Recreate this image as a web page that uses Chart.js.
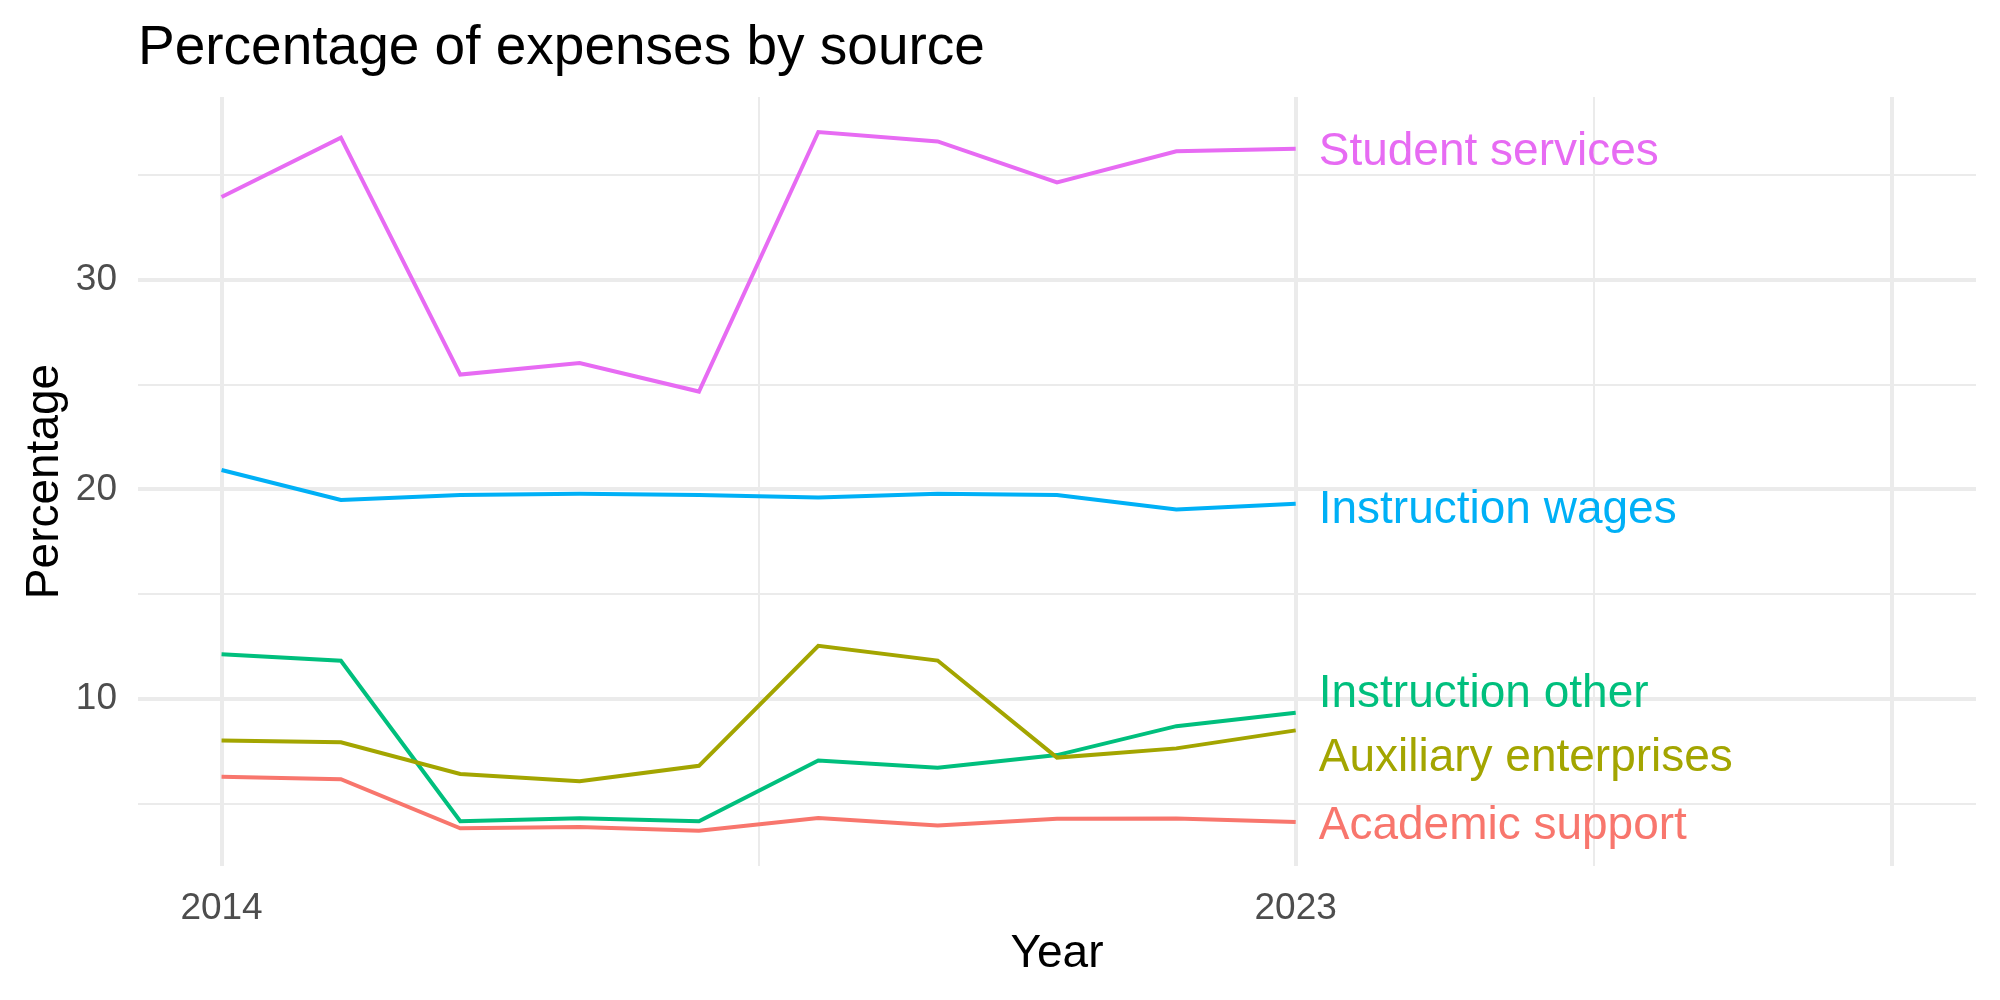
<!DOCTYPE html>
<html>
<head>
<meta charset="utf-8">
<title>Percentage of expenses by source</title>
<script src="https://cdn.jsdelivr.net/npm/chart.js@4/dist/chart.umd.min.js"></script>
<style>
  html, body { margin: 0; padding: 0; background: #fff; }
  canvas { display: block; }
</style>
</head>
<body>
<canvas id="chart" width="2000" height="1000"></canvas>
<script>
const years = [2014, 2015, 2016, 2017, 2018, 2019, 2020, 2021, 2022, 2023];

const categories = ['Academic support', 'Auxiliary enterprises', 'Instruction other', 'Instruction wages', 'Student services'];

const academicSupport = [6.30, 6.18, 3.84, 3.90, 3.72, 4.33, 3.97, 4.29, 4.31, 4.14];
const auxiliaryEnterprises = [8.03, 7.94, 6.43, 6.08, 6.82, 12.54, 11.84, 7.21, 7.65, 8.51];
const instructionOther = [12.14, 11.83, 4.18, 4.32, 4.17, 7.07, 6.73, 7.33, 8.71, 9.35];
const instructionWages = [20.93, 19.50, 19.74, 19.80, 19.74, 19.62, 19.80, 19.74, 19.05, 19.32];
const studentServices = [33.95, 36.78, 25.48, 26.03, 24.67, 37.05, 36.60, 34.65, 36.13, 36.25];

// where the end labels sit (value axis), nudged apart like ggrepel does
const labelValues = [4.08, 7.33, 10.37, 19.18, 36.22];

const xBreaks = [2014, 2018.5, 2023, 2025.5, 2028];
const xMajor = [2014, 2023, 2028];
const xLabelled = [2014, 2023];
const yBreaks = [5, 10, 15, 20, 25, 30, 35];
const yMajor = [10, 20, 30];

const colors = ['#F8766D', '#A3A500', '#00BF7D', '#00B0F6', '#E76BF3'];
const seriesValues = [academicSupport, auxiliaryEnterprises, instructionOther, instructionWages, studentServices];

const FONT = '"Liberation Sans", Arial, Helvetica, sans-serif';
const GRID = '#EBEBEB';

function toPoints(values) {
  return values.map((v, i) => ({ x: years[i], y: v }));
}

const datasets = categories.map((name, i) => ({
  label: name,
  data: toPoints(seriesValues[i]),
  borderColor: colors[i],
  backgroundColor: colors[i],
  borderWidth: 4,
  pointRadius: 0,
  tension: 0,
  fill: false
}));

// titles and the end-of-line labels
const annotate = {
  id: 'annotate',
  afterDatasetsDraw(chart) {
    const ctx = chart.ctx;
    const area = chart.chartArea;
    const xs = chart.scales.x;
    const ys = chart.scales.y;
    ctx.save();

    ctx.font = '46px ' + FONT;
    ctx.textAlign = 'left';
    ctx.textBaseline = 'alphabetic';
    const lastYear = years[years.length - 1];
    categories.forEach((name, i) => {
      ctx.fillStyle = colors[i];
      ctx.fillText(name, xs.getPixelForValue(lastYear) + 23, ys.getPixelForValue(labelValues[i]) + 16);
    });

    ctx.fillStyle = '#000';
    ctx.font = '55px ' + FONT;
    ctx.fillText('Percentage of expenses by source', area.left, 64);

    ctx.font = '46px ' + FONT;
    ctx.textAlign = 'center';
    ctx.fillText('Year', (area.left + area.right) / 2, 967);

    ctx.translate(58, (area.top + area.bottom) / 2);
    ctx.rotate(-Math.PI / 2);
    ctx.fillText('Percentage', 0, 0);
    ctx.restore();
  }
};

new Chart(document.getElementById('chart'), {
  type: 'line',
  data: { datasets: datasets },
  plugins: [annotate],
  options: {
    responsive: false,
    animation: false,
    devicePixelRatio: 1,
    layout: { padding: { top: 97, right: 24, left: 0, bottom: 0 } },
    plugins: {
      legend: { display: false },
      tooltip: { enabled: false },
      title: { display: false }
    },
    scales: {
      x: {
        type: 'linear',
        min: 2013.3,
        max: 2028.7,
        afterBuildTicks: (scale) => { scale.ticks = xBreaks.map(v => ({ value: v })); },
        afterFit: (scale) => { scale.height = 134; },
        border: { display: false },
        grid: {
          color: GRID,
          drawTicks: false,
          lineWidth: (c) => xMajor.includes(c.tick.value) ? 4 : 2
        },
        ticks: {
          autoSkip: false,
          maxRotation: 0,
          padding: 21,
          color: '#4D4D4D',
          font: { family: FONT, size: 37 },
          callback: (v) => xLabelled.includes(v) ? String(v) : ''
        }
      },
      y: {
        type: 'linear',
        min: 2.04,
        max: 38.72,
        afterBuildTicks: (scale) => { scale.ticks = yBreaks.map(v => ({ value: v })); },
        afterFit: (scale) => { scale.width = 138; },
        border: { display: false },
        grid: {
          color: GRID,
          drawTicks: false,
          lineWidth: (c) => yMajor.includes(c.tick.value) ? 4 : 2
        },
        ticks: {
          padding: 21,
          color: '#4D4D4D',
          font: { family: FONT, size: 37 },
          callback: (v) => yMajor.includes(v) ? String(v) : ''
        }
      }
    }
  }
});
</script>
</body>
</html>
